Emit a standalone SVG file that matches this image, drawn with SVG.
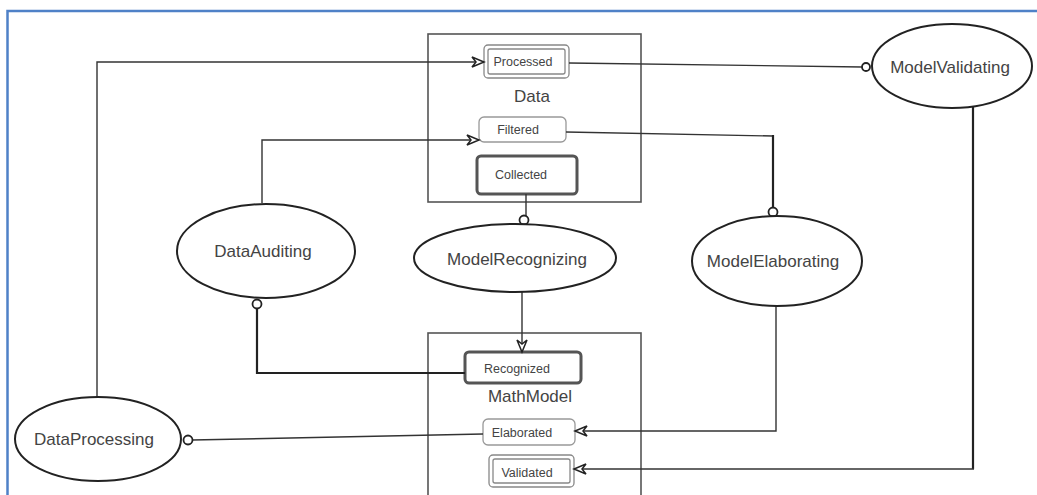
<svg xmlns="http://www.w3.org/2000/svg" width="1037" height="495" viewBox="0 0 1037 495">
<defs>
<style>
.frame{fill:none;stroke:#4f81c7;stroke-width:2.5}
.box{fill:#fff;stroke:#555;stroke-width:1.6}
.ell{fill:#fff;stroke:#222;stroke-width:2}
.lbl{font-family:"Liberation Sans",Arial,sans-serif;fill:#444;text-anchor:middle}
.big{font-size:17px}
.sm{font-size:12.5px}
.thin{fill:#fff;stroke:#999;stroke-width:1.3}
.thick{fill:#fff;stroke:#555;stroke-width:3}
.dbl{fill:#fff;stroke:#888;stroke-width:1.3}
.c{fill:none;stroke:#333;stroke-width:1.4}
.cb{fill:none;stroke:#222;stroke-width:2.2}
.dot{fill:#fff;stroke:#222;stroke-width:1.8}
</style>
<marker id="arr" markerWidth="16" markerHeight="12" refX="13" refY="6" orient="auto" markerUnits="userSpaceOnUse">
<path d="M1,1 L13,6 L1,11 L5,6 Z" fill="#fff" stroke="#222" stroke-width="1.5" stroke-linejoin="miter"/>
</marker>
</defs>
<rect width="1037" height="495" fill="#fff"/>
<path class="frame" d="M7.5,495 V11 H1037"/>

<g id="Data">
<rect class="box" x="428" y="34" width="213" height="168"/>
<text class="lbl big" x="532" y="102">Data</text>
</g>
<g id="MathModel">
<rect class="box" x="428" y="333" width="213" height="170"/>
<text class="lbl big" x="530" y="402">MathModel</text>
</g>

<g id="Processed">
<rect class="dbl" x="484" y="45" width="85" height="33" rx="4"/>
<rect class="dbl" x="488" y="49" width="77" height="25" rx="2"/>
<text class="lbl sm" x="523" y="66">Processed</text>
</g>
<g id="Filtered">
<rect class="thin" x="479" y="117" width="87" height="25" rx="5"/>
<text class="lbl sm" x="518" y="134">Filtered</text>
</g>
<g id="Collected">
<rect class="thick" x="477" y="156" width="100" height="38" rx="4"/>
<text class="lbl sm" x="521" y="179">Collected</text>
</g>
<g id="Recognized">
<rect class="thick" x="465" y="352" width="116" height="31" rx="4"/>
<text class="lbl sm" x="517" y="373">Recognized</text>
</g>
<g id="Elaborated">
<rect class="thin" x="483" y="419" width="92" height="26" rx="5"/>
<text class="lbl sm" x="522" y="437">Elaborated</text>
</g>
<g id="Validated">
<rect class="dbl" x="489" y="455" width="85" height="32" rx="4"/>
<rect class="dbl" x="493" y="459" width="77" height="24" rx="2"/>
<text class="lbl sm" x="527" y="477">Validated</text>
</g>

<g id="connectors">
<path class="c" d="M97,397 V62 H484" marker-end="url(#arr)"/>
<path class="c" d="M569,63 L862,67"/>
<path class="c" d="M262,203 V140 H479" marker-end="url(#arr)"/>
<path class="c" d="M566,132 L773,136"/>
<path class="cb" d="M773,135 V208"/>
<path class="c" d="M526,194 V216"/>
<path class="c" d="M522,292 V352" marker-end="url(#arr)"/>
<path class="cb" d="M257,308 V373 H465"/>
<path class="c" d="M192,440 L483,434"/>
<path class="c" d="M776,306 V431 H575" marker-end="url(#arr)"/>
<path class="cb" d="M973,106 V469"/>
<path class="c" d="M974,469 H574" marker-end="url(#arr)"/>
<circle class="dot" cx="866" cy="67" r="4"/>
<circle class="dot" cx="773" cy="212" r="4.5"/>
<circle class="dot" cx="524" cy="220" r="4.5"/>
<circle class="dot" cx="257" cy="304" r="4.5"/>
<circle class="dot" cx="188" cy="440" r="4.5"/>
</g>

<g id="ModelValidating">
<ellipse class="ell" cx="952" cy="66" rx="80" ry="42"/>
<text class="lbl big" x="950" y="73">ModelValidating</text>
</g>
<g id="DataAuditing">
<ellipse class="ell" cx="266" cy="251" rx="89" ry="47"/>
<text class="lbl big" x="263" y="257">DataAuditing</text>
</g>
<g id="ModelRecognizing">
<ellipse class="ell" cx="515" cy="258" rx="101" ry="34"/>
<text class="lbl big" x="517" y="265">ModelRecognizing</text>
</g>
<g id="ModelElaborating">
<ellipse class="ell" cx="777" cy="261" rx="85" ry="45"/>
<text class="lbl big" x="773" y="267">ModelElaborating</text>
</g>
<g id="DataProcessing">
<ellipse class="ell" cx="98" cy="439" rx="83" ry="42"/>
<text class="lbl big" x="94" y="445">DataProcessing</text>
</g>
</svg>
